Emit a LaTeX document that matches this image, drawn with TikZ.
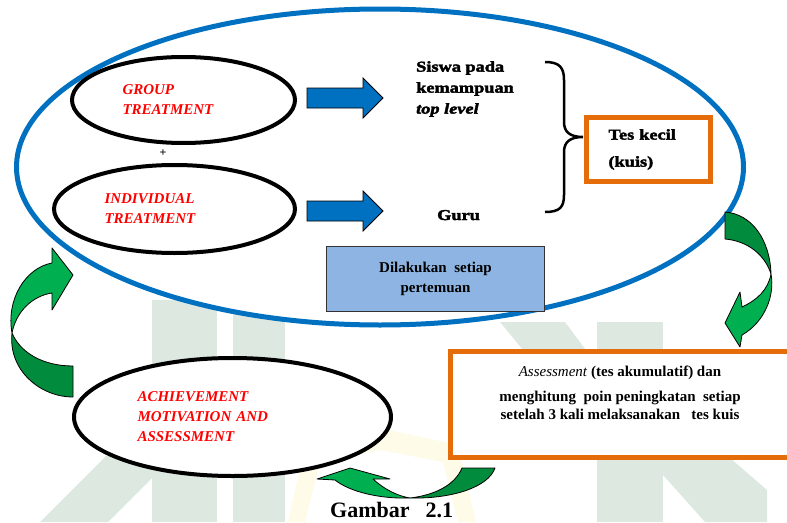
\documentclass[tikz,border=0pt]{standalone}
\usepackage{fontspec}
\setmainfont{Liberation Serif}
\newfontfamily\heavyfont[FakeStretch=1.22,FakeBold=2.5]{Liberation Serif}
\usetikzlibrary{positioning,calc,shapes.geometric}
\definecolor{loopblue}{RGB}{0,112,192}
\definecolor{boxorange}{RGB}{228,108,10}
\definecolor{notefill}{RGB}{141,180,226}
\definecolor{lightgreen}{RGB}{0,176,80}
\definecolor{darkgreen}{RGB}{0,140,60}
\definecolor{wmgreen}{RGB}{221,232,225}
\definecolor{wmyellow}{RGB}{254,251,232}

\begin{document}
\begin{tikzpicture}[
    x=1pt, y=-1pt,
    oval/.style={ellipse, draw, line width=4pt, fill=white, inner sep=0pt, align=left, font=\fontsize{15}{20}\selectfont\bfseries\itshape, text=red},
    heavytext/.style={font=\heavyfont\fontsize{15}{21}\selectfont\bfseries, inner sep=0pt, align=left},
    plaintext/.style={font=\fontsize{15}{20}\selectfont\bfseries, inner sep=0pt, align=center},
    outbox/.style={rectangle, draw=boxorange, line width=5pt, fill=white},
    bluearrow/.pic={\draw[fill=loopblue, line width=0.8pt] (0,-10) -- (56,-10) -- (56,-20) -- (76,0) -- (56,20) -- (56,10) -- (0,10) -- cycle;},
    lgreen/.style={fill=lightgreen, draw, line width=0.8pt, line join=round},
    dgreen/.style={fill=darkgreen, draw, line width=0.8pt, line join=round}
]
\clip (0,0) rectangle (787,522);

% watermark
\fill[wmgreen] (40,522) -- (108,522) -- (152,478) -- (152,410) -- cycle;
\fill[wmgreen] (152,300) rectangle (217,522);
\fill[wmgreen] (233,300) rectangle (285,522);
\fill[wmgreen] (500,322) -- (565,322) -- (597,365) -- (597,440) -- cycle;
\fill[wmgreen] (597,322) rectangle (663,522);
\fill[wmgreen] (663,400) -- (767,490) -- (767,522) -- (705,522) -- (663,475) -- cycle;
\fill[wmyellow] (288,522) -- (305,445) -- (380,428) -- (458,445) -- (476,522) -- (458,522) -- (443,462) -- (380,450) -- (320,462) -- (305,522) -- cycle;

% main loop
\node[ellipse, draw=loopblue, line width=5pt, fill=white, minimum width=727, minimum height=316] (loop) at (380,167) {};

\node[oval, minimum width=223, minimum height=86, text width=122] (grp) at (183.5,100) {GROUP\\TREATMENT};
\node[oval, minimum width=241, minimum height=88, text width=140] (ind) at (174.5,209) {INDIVIDUAL\\TREATMENT};
\node[font=\fontsize{12}{14}\selectfont\bfseries, inner sep=0pt] (plus) at (163,153) {+};

\pic at ($(grp.east)+(10,-2)$) {bluearrow};
\pic at ($(ind.east)+(10,2)$) {bluearrow};

\node[heavytext, anchor=north west] (siswa) at (416,61) {Siswa pada\\kemampuan\\\textit{top level}};
\node[heavytext, anchor=base west] (guru) at (437,220) {Guru};

\coordinate (bt) at (545,62);
\coordinate (bb) at (545,212);
\draw[line width=2.5pt] (bt) .. controls (560,62) and (564,68) .. (564,80) -- (564,122) .. controls (564,132) and (570,137) .. (583,137) .. controls (570,137) and (564,142) .. (564,152) -- (564,195) .. controls (564,207) and (560,212) .. (bb);

\node[outbox, heavytext, font=\heavyfont\fontsize{15}{27}\selectfont\bfseries, minimum width=124, minimum height=64, text width=80] (tes) at (648.5,149.5) {Tes kecil\\(kuis)};

\node[plaintext, draw=black!80, line width=1.5pt, fill=notefill, minimum width=218, minimum height=65] (dil) at (435.5,279) {Dilakukan\ \ setiap\\pertemuan};

\node[outbox, minimum width=350, minimum height=106] (asm) at (625.5,404.5) {};
\node[plaintext, anchor=north] (asmtxt) at (620,366) {\textit{\mdseries Assessment} (tes akumulatif)\ dan\\[5pt]menghitung\ \ poin peningkatan\ \ setiap\\[-2pt]setelah 3 kali melaksanakan\ \ \ tes kuis};

\node[oval, minimum width=317, minimum height=118, text width=190] (ach) at (232.5,417) {ACHIEVEMENT\\MOTIVATION AND\\ASSESSMENT};

% curved arrows
\draw[dgreen] (725,212) .. controls (752,214) and (770,240) .. (771,274) .. controls (765,255) and (748,241) .. (725,239) -- cycle;
\draw[lgreen] (771,274) .. controls (775,295) and (765,322) .. (742,335) -- (740,347) -- (725,323) -- (740,292) -- (742,307) .. controls (757,300) and (768,290) .. (771,274) -- cycle;

\draw[dgreen] (410,498) .. controls (450,499) and (488,488) .. (495,468) -- (462,468) .. controls (455,485) and (435,495) .. (410,498) -- cycle;
\draw[lgreen] (410,498) .. controls (380,499) and (350,492) .. (335,480) -- (317,479) -- (350,468) -- (390,479) -- (373,479) .. controls (385,490) and (398,496) .. (410,498) -- cycle;

\draw[dgreen] (12,333) .. controls (8,370) and (40,397) .. (73,397) -- (73,366) .. controls (42,366) and (20,352) .. (12,333) -- cycle;
\draw[lgreen] (12,333) .. controls (6,300) and (25,268) .. (52,263) -- (52,248) -- (73,275) -- (52,310) -- (52,293) .. controls (32,296) and (16,312) .. (12,333) -- cycle;

\node[font=\fontsize{22}{24}\selectfont\bfseries, anchor=base west, inner sep=0pt] (cap) at (330,517) {Gambar\hspace{16pt}2.1};
\end{tikzpicture}
\end{document}
